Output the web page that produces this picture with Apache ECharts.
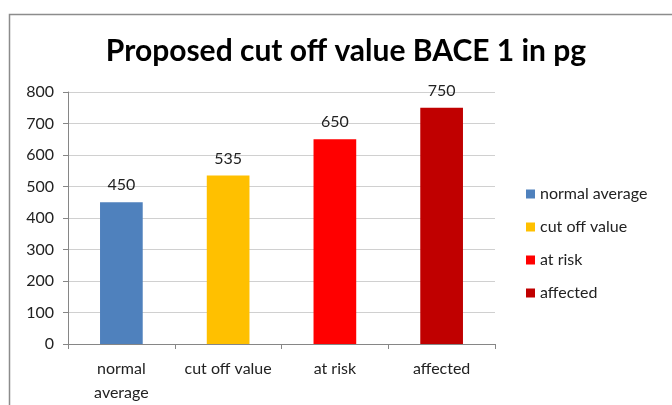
<!DOCTYPE html>
<html>
<head>
<meta charset="utf-8">
<script src="https://cdn.jsdelivr.net/npm/echarts@6/dist/echarts.min.js"></script>
<style>
  html, body { margin: 0; padding: 0; background: #fff; }
  #chart { width: 672px; height: 405px; }
</style>
</head>
<body>
<div id="chart"></div>
<script>
// categories and values
const categories = ["normal average", "cut off value", "at risk", "affected"]
const values = [450, 535, 650, 750]
const colors = ["#4f81bd", "#ffc000", "#ff0000", "#c00000"]
const axisLabels = ["normal\naverage", "cut off value", "at risk", "affected"]

const myChart = echarts.init(document.getElementById("chart"))
const font = "Lato, Open Sans, sans-serif"

// one series per category so the legend shows each colour
const series = categories.map((name, i) => ({
	name: name,
	type: "bar",
	stack: "all",
	barWidth: "40%",
	data: categories.map((c, j) => (j === i ? values[i] : null)),
	itemStyle: { color: colors[i] },
	label: {
		show: true,
		position: "top",
		color: "#222",
		fontSize: 16,
		fontFamily: font,
		distance: 9,
	},
}))

const option = {
	animation: false,
	title: {
		text: "Proposed cut off value BACE 1 in pg",
		left: 341,
		textAlign: "center",
		top: 31,
		textStyle: { fontSize: 30, fontWeight: "bold", color: "#000", fontFamily: font },
	},
	legend: {
		orient: "vertical",
		left: 521,
		top: 181,
		itemWidth: 9,
		itemHeight: 9,
		itemGap: 17,
		icon: "rect",
		textStyle: { fontSize: 16, color: "#222", fontFamily: font },
		data: categories,
	},
	grid: { left: 68, right: 177, top: 92, bottom: 60 },
	xAxis: {
		type: "category",
		data: axisLabels,
		axisLine: { lineStyle: { color: "#868686" } },
		axisTick: { show: true, alignWithLabel: false, length: 5, lineStyle: { color: "#868686" } },
		axisLabel: { interval: 0, color: "#222", fontSize: 16, fontFamily: font, margin: 13, lineHeight: 24 },
	},
	yAxis: {
		type: "value",
		min: 0,
		max: 800,
		interval: 100,
		axisLine: { show: true, lineStyle: { color: "#868686" } },
		axisTick: { show: true, length: 5, lineStyle: { color: "#868686" } },
		splitLine: { lineStyle: { color: "#d0d0d0" } },
		axisLabel: { color: "#222", fontSize: 16, fontFamily: font, margin: 14 },
	},
	graphic: [
		{
			type: "rect",
			shape: { x: 9.5, y: 14.5, width: 700, height: 420 },
			style: { fill: null, stroke: "#8c8c8c", lineWidth: 1.5 },
			silent: true,
		},
	],
	series: series,
}
myChart.setOption(option)
</script>
</body>
</html>
